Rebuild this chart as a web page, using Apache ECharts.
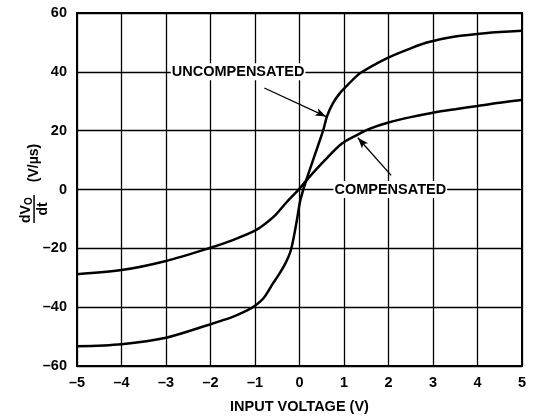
<!DOCTYPE html>
<html>
<head>
<meta charset="utf-8">
<script src="https://cdn.jsdelivr.net/npm/echarts@6/dist/echarts.min.js"></script>
<style>html,body{margin:0;padding:0;background:#fff}#c{width:543px;height:419px}</style>
</head>
<body>
<div id="c"></div>
<script>
// ---- data ----
const uncompX = [-5, -4, -3, -2, -1.5, -1.2, -1, -0.8, -0.6, -0.45, -0.3, -0.19, -0.07, 0.02, 0.15, 0.35, 0.53, 0.62, 0.75, 0.9, 1.1, 1.36, 1.96, 2.5, 2.93, 3.5, 3.94, 4.5, 5];
const uncompY = [-53.3, -52.6, -50.4, -45.8, -43.3, -41.3, -39.5, -36.8, -32, -28.6, -24.6, -20.4, -11.4, -3.6, 3.1, 12, 20, 25, 29.3, 32.6, 35.8, 39.5, 44.6, 48, 50.2, 52, 52.8, 53.5, 54];
const compX = [-5, -4, -3, -2, -1.5, -1, -0.8, -0.56, -0.3, 0, 0.19, 0.56, 0.94, 1.3, 1.6, 2, 2.5, 3, 3.5, 4, 4.5, 5];
const compY = [-28.8, -27.4, -24.3, -19.8, -17.2, -14, -12, -9, -4.5, 0.3, 3.7, 9.8, 15.5, 18.6, 20.8, 22.8, 24.6, 26.1, 27.3, 28.4, 29.5, 30.4];
const xTickLabels = ['–5', '–4', '–3', '–2', '–1', '0', '1', '2', '3', '4', '5'];
const yTickLabels = ['–60', '–40', '–20', '0', '20', '40', '60'];
const annotUncomp = { text: 'UNCOMPENSATED', at: [-1.38, 40], arrowFrom: [-0.79, 34.5], arrowTo: [0.6, 24.8] };
const annotComp = { text: 'COMPENSATED', at: [2.04, 0], arrowFrom: [2.06, 4.8], arrowTo: [1.31, 17.6] };

const FF = '"Liberation Sans", Arial, Helvetica, sans-serif';
const zip = (xs, ys) => xs.map((x, i) => [x, ys[i]]);

const chart = echarts.init(document.getElementById('c'));
const axisText = { color: '#000', fontSize: 14.5, fontWeight: 'bold', fontFamily: FF };

const option = {
  animation: false,
  grid: { left: 77, right: 21, top: 13, bottom: 51, show: true, borderColor: '#000', borderWidth: 2, backgroundColor: 'transparent' },
  xAxis: {
    type: 'value', min: -5, max: 5, interval: 1,
    axisLine: { show: false }, axisTick: { show: false },
    splitLine: { show: true, lineStyle: { color: '#000', width: 1.3 } },
    axisLabel: Object.assign({ margin: 9, formatter: v => xTickLabels[Math.round(v + 5)] }, axisText),
    name: 'INPUT VOLTAGE (V)', nameLocation: 'middle', nameGap: 33,
    nameTextStyle: { color: '#000', fontSize: 14.5, fontWeight: 'bold', fontFamily: FF }
  },
  yAxis: {
    type: 'value', min: -60, max: 60, interval: 20,
    axisLine: { show: false }, axisTick: { show: false },
    splitLine: { show: true, lineStyle: { color: '#000', width: 1.3 } },
    axisLabel: Object.assign({ margin: 10, formatter: v => yTickLabels[Math.round((v + 60) / 20)] }, axisText)
  },
  series: [
    {
      type: 'line', data: zip(uncompX, uncompY), smooth: 0.3,
      showSymbol: false, lineStyle: { color: '#000', width: 2.5 }, z: 5,
      markLine: {
        silent: true, symbol: ['none', 'arrow'], symbolSize: [6, 11],
        label: { show: false }, lineStyle: { color: '#000', width: 1.3, type: 'solid' },
        data: [[{ coord: annotUncomp.arrowFrom }, { coord: annotUncomp.arrowTo }]]
      }
    },
    {
      type: 'line', data: zip(compX, compY), smooth: 0.3,
      showSymbol: false, lineStyle: { color: '#000', width: 2.5 }, z: 5,
      markLine: {
        silent: true, symbol: ['none', 'arrow'], symbolSize: [6, 11],
        label: { show: false }, lineStyle: { color: '#000', width: 1.3, type: 'solid' },
        data: [[{ coord: annotComp.arrowFrom }, { coord: annotComp.arrowTo }]]
      }
    }
  ]
};
chart.setOption(option);

function annotText(a) {
  const p = chart.convertToPixel({ gridIndex: 0 }, a.at);
  return {
    type: 'text', x: p[0], y: p[1], z: 100,
    style: {
      text: a.text, fill: '#000', font: 'bold 14.5px ' + FF,
      align: 'center', verticalAlign: 'middle',
      backgroundColor: '#fff', padding: [1, 1]
    }
  };
}

chart.setOption({
  graphic: [
    annotText(annotUncomp),
    annotText(annotComp),
    {
      type: 'group', x: 33, y: 183, rotation: Math.PI / 2, z: 100,
      children: [
        { type: 'text', x: -40, y: 0, style: { text: 'dV', fill: '#000', font: 'bold 14px ' + FF, align: 'left', verticalAlign: 'bottom' } },
        { type: 'text', x: -22, y: 1.5, style: { text: 'O', fill: '#000', font: 'bold 10px ' + FF, align: 'left', verticalAlign: 'bottom' } },
        { type: 'rect', shape: { x: -40, y: 0.3, width: 28, height: 1.5 }, style: { fill: '#000' } },
        { type: 'text', x: -26, y: 3, style: { text: 'dt', fill: '#000', font: 'bold 14px ' + FF, align: 'center', verticalAlign: 'top' } },
        { type: 'text', x: 20, y: 1, style: { text: '(V/µs)', fill: '#000', font: 'bold 14px ' + FF, align: 'center', verticalAlign: 'middle' } }
      ]
    }
  ]
});
</script>
</body>
</html>
